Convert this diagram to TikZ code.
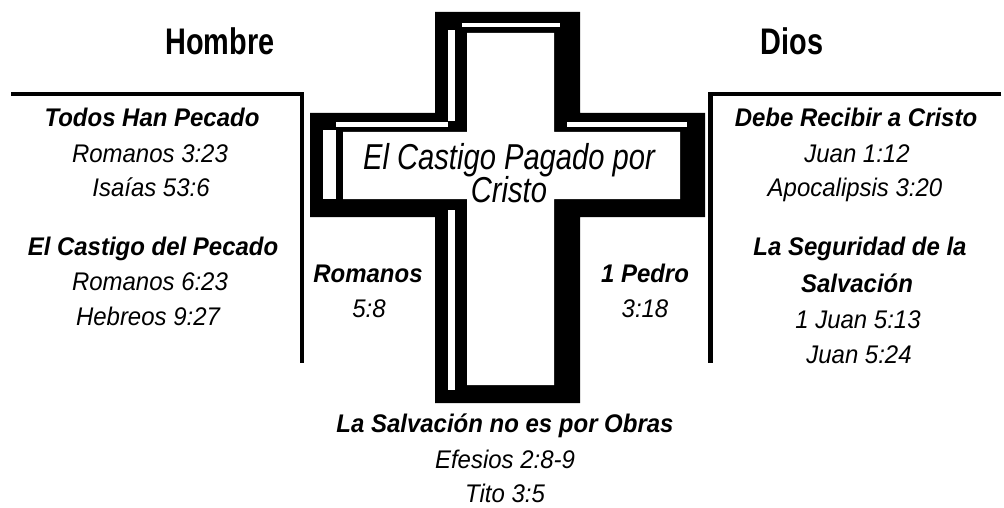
\documentclass[tikz,border=0pt]{standalone}
\usepackage{fontspec}
\setmainfont{Liberation Sans}
\newfontfamily\titlefont[FakeStretch=0.78]{Liberation Sans}
\newfontfamily\crossfont[FakeStretch=0.81]{Liberation Sans}
\newfontfamily\bodyfont[FakeStretch=0.94]{Liberation Sans}
\begin{document}
\begin{tikzpicture}[x=1pt,y=-1pt,
  title/.style={font=\titlefont\bfseries\fontsize{37}{40}\selectfont, anchor=base, inner sep=0pt},
  bhead/.style={font=\bodyfont\bfseries\itshape\fontsize{25.5}{28}\selectfont, anchor=base, inner sep=0pt},
  vref/.style={font=\bodyfont\itshape\fontsize{25.5}{28}\selectfont, anchor=base, inner sep=0pt},
  crosstxt/.style={font=\crossfont\itshape\fontsize{36}{40}\selectfont, anchor=base, inner sep=0pt},
  panel/.style={line width=4.5pt, line join=miter},
  hl/.style={fill=white, draw=none}]
\useasboundingbox (0,0) rectangle (1004,508);
% cross
\fill[black] (435,12) -- (580,12) -- (580,113) -- (705,113) -- (705,217) -- (580,217)
  -- (580,403) -- (435,403) -- (435,217) -- (310,217) -- (310,113) -- (435,113) -- cycle;
\fill[white] (467,33) -- (554,33) -- (554,132) -- (680,132) -- (680,199) -- (554,199)
  -- (554,385) -- (467,385) -- (467,199) -- (343,199) -- (343,132) -- (467,132) -- cycle;
\fill[hl] (462,23) rectangle (560,27);
\fill[hl] (448,30) rectangle (455,121);
\fill[hl] (336,122) rectangle (448,127);
\fill[hl] (323,130) rectangle (336,199);
\fill[hl] (567,122) rectangle (687,127);
\fill[hl] (448,210) rectangle (455,390);
% panel lines
\coordinate (lA) at (11,94);
\coordinate (lB) at (302,94);
\coordinate (lC) at (302,363);
\coordinate (rA) at (1001,94);
\coordinate (rB) at (710.5,94);
\coordinate (rC) at (710.5,363);
\draw[panel] (lA) -- (lB) -- (lC);
\draw[panel] (rA) -- (rB) -- (rC);
% titles
\node[title] (hombre) at (220,55) {Hombre};
\node[title] (dios) at (792,55) {Dios};
% cross text
\node[crosstxt] (ct1) at (509,169) {El Castigo Pagado por};
\node[crosstxt] (ct2) at (509,202) {Cristo};
% left block
\node[bhead] (l1) at (152,127) {Todos Han Pecado};
\node[vref] (l2) at (150,162) {Romanos 3:23};
\node[vref] (l3) at (151,196) {Isaías 53:6};
\node[bhead] (l4) at (153,255) {El Castigo del Pecado};
\node[vref] (l5) at (150,290) {Romanos 6:23};
\node[vref] (l6) at (148,325) {Hebreos 9:27};
% right block
\node[bhead] (r1) at (856,127) {Debe Recibir a Cristo};
\node[vref] (r2) at (857,163) {Juan 1:12};
\node[vref] (r3) at (855,196) {Apocalipsis 3:20};
\node[bhead] (r4) at (860,255) {La Seguridad de la};
\node[bhead] (r5) at (857,292) {Salvación};
\node[vref] (r6) at (858,328) {1 Juan 5:13};
\node[vref] (r7) at (859,363) {Juan 5:24};
% center side labels
\node[bhead] (m1) at (368,282) {Romanos};
\node[vref] (m2) at (369,317) {5:8};
\node[bhead] (p1) at (645,282) {1 Pedro};
\node[vref] (p2) at (645,317) {3:18};
% bottom
\node[bhead] (b1) at (505,432) {La Salvación no es por Obras};
\node[vref] (b2) at (505,468) {Efesios 2:8-9};
\node[vref] (b3) at (505,502) {Tito 3:5};
\end{tikzpicture}
\end{document}
